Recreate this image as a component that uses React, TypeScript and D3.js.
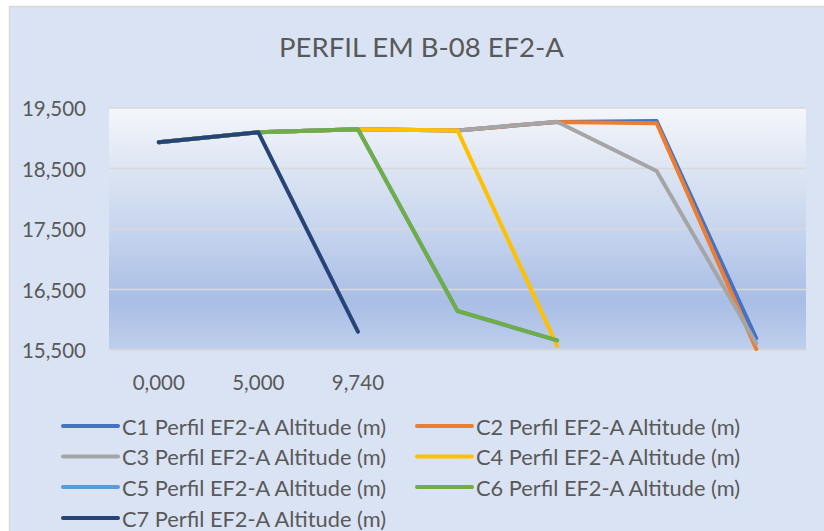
import React from "react";
import * as d3 from "d3";

const title = "PERFIL EM B-08 EF2-A";
const categoryLabels = ["0,000", "5,000", "9,740", "", "", "", ""];
const yTicks = [15500, 16500, 17500, 18500, 19500];

const seriesNames = [
  "C1 Perfil EF2-A Altitude (m)",
  "C2 Perfil EF2-A Altitude (m)",
  "C3 Perfil EF2-A Altitude (m)",
  "C4 Perfil EF2-A Altitude (m)",
  "C5 Perfil EF2-A Altitude (m)",
  "C6 Perfil EF2-A Altitude (m)",
  "C7 Perfil EF2-A Altitude (m)",
];
const seriesColors = ["#4472c4", "#ed7d31", "#a5a5a5", "#ffc000", "#5b9bd5", "#70ad47", "#264478"];

const c1 = [18933, 19098, 19148, 19130, 19270, 19285, 15693];
const c2 = [18933, 19098, 19148, 19130, 19270, 19247, 15517];
const c3 = [18933, 19098, 19148, 19130, 19274, 18459, 15611];
const c4 = [18933, 19098, 19148, 19130, 15571, null, null];
const c5 = [18933, 19098, 19148, 16145, 15660, null, null];
const c6 = [18933, 19098, 19148, 16145, 15660, null, null];
const c7 = [18933, 19098, 15803, null, null, null, null];
const seriesValues: (number | null)[][] = [c1, c2, c3, c4, c5, c6, c7];

const W = 824;
const H = 531;
const plot = { left: 109, right: 806, top: 108, bottom: 350 };
const FONT = "Lato, 'Open Sans', sans-serif";
const TEXT = "#595959";

export default function App() {
  const x = d3
    .scaleBand<number>()
    .domain(categoryLabels.map((_, i) => i))
    .range([plot.left, plot.right]);
  const y = d3.scaleLinear().domain([15500, 19500]).range([plot.bottom, plot.top]);
  const cx = (i: number) => (x(i) as number) + x.bandwidth() / 2;

  const line = d3
    .line<number | null>()
    .defined((d) => d !== null)
    .x((_, i) => cx(i))
    .y((d) => y(d as number));

  const legendCols = [63, 417];
  const legendRows = [426, 456.5, 487, 518];

  return (
    <div style={{ position: "fixed", left: 0, top: 0 }}>
      <svg width={W} height={H} style={{ display: "block" }}>
        <defs>
          <linearGradient id="plotGrad" x1="0" y1="0" x2="0" y2="1">
            <stop offset="0" stopColor="#f4f6fb" />
            <stop offset="0.25" stopColor="#dde5f3" />
            <stop offset="0.5" stopColor="#c7d5ee" />
            <stop offset="0.8" stopColor="#a9bee5" />
            <stop offset="1" stopColor="#bfcfec" />
          </linearGradient>
        </defs>
        <rect x={0} y={0} width={W} height={H} fill="#ffffff" />
        <rect x={9.5} y={6.5} width={W + 10} height={H + 10} fill="#dae3f3" stroke="#d9d9d9" strokeWidth={1.5} />
        <text x={421.5} y={57} textAnchor="middle" fontFamily={FONT} fontSize={27.5} fill={TEXT}>
          {title}
        </text>
        <rect
          x={plot.left}
          y={plot.top}
          width={plot.right - plot.left}
          height={plot.bottom - plot.top}
          fill="url(#plotGrad)"
        />
        {yTicks.map((t) => (
          <g key={t}>
            <line x1={plot.left} x2={plot.right} y1={y(t)} y2={y(t)} stroke="#d9d9d9" strokeWidth={1.5} />
            <text
              x={86}
              y={y(t)}
              textAnchor="end"
              dominantBaseline="central"
              fontFamily={FONT}
              fontSize={20.5}
              fill={TEXT}
            >
              {d3.format(",")(t)}
            </text>
          </g>
        ))}
        {categoryLabels.map((c, i) => (
          <text
            key={i}
            x={cx(i)}
            y={382}
            textAnchor="middle"
            dominantBaseline="central"
            fontFamily={FONT}
            fontSize={20.5}
            fill={TEXT}
          >
            {c}
          </text>
        ))}
        {seriesValues.map((vals, si) => (
          <path
            key={si}
            d={line(vals) || ""}
            fill="none"
            stroke={seriesColors[si]}
            strokeWidth={4}
            strokeLinecap="round"
            strokeLinejoin="round"
          />
        ))}
        {seriesNames.map((name, si) => {
          const col = si % 2;
          const row = Math.floor(si / 2);
          const lx = legendCols[col];
          const ly = legendRows[row];
          return (
            <g key={name}>
              <line
                x1={lx}
                x2={lx + 55}
                y1={ly}
                y2={ly}
                stroke={seriesColors[si]}
                strokeWidth={4}
                strokeLinecap="round"
              />
              <text
                x={lx + 59}
                y={ly}
                dominantBaseline="central"
                fontFamily={FONT}
                fontSize={21.8}
                fill={TEXT}
              >
                {name}
              </text>
            </g>
          );
        })}
      </svg>
    </div>
  );
}
